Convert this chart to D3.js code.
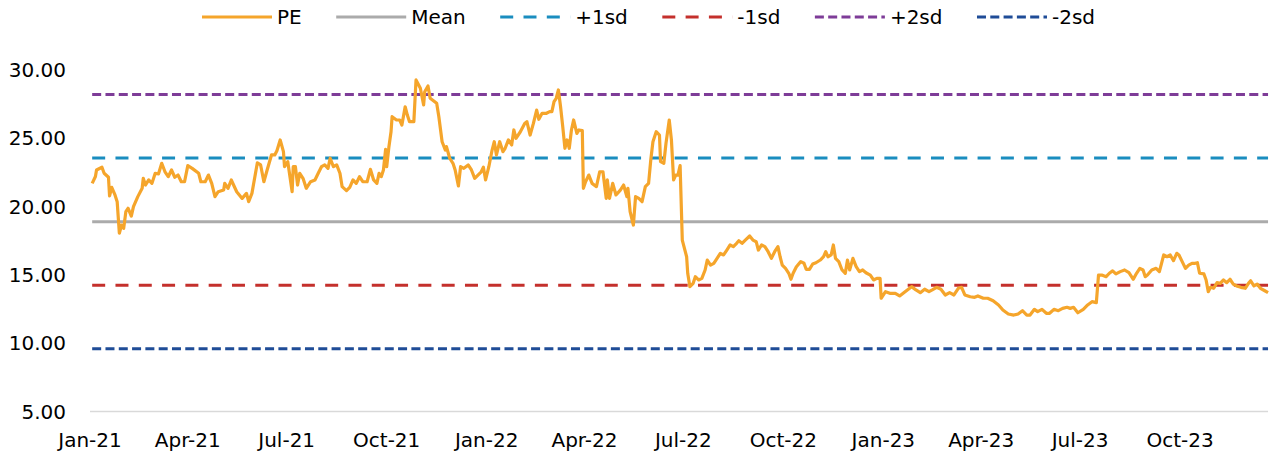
<!DOCTYPE html>
<html>
<head>
<meta charset="utf-8">
<script src="https://cdn.jsdelivr.net/npm/d3@7"></script>
<style>
  html, body { margin:0; padding:0; background:#fff; }
  svg text { font-family:"DejaVu Sans", Verdana, sans-serif; fill:#000; }
</style>
</head>
<body>
<svg id="chart" width="1269" height="459"></svg>
<script>
/* ——— data ———————————————————————————————————————————— */
// PE series: [days after 1 Jan 2021, value]
const peSeries = [
  [2,21.7],[5,22.2],[6,22.68],[11,22.88],[13,22.44],[17,22.15],[18,20.78],[20,21.41],
  [23,20.85],[25,20.36],[27,18.05],[29,18.65],[31,18.41],[33,19.63],[35,19.88],[38,19.31],
  [40,20.0],[44,20.73],[48,21.34],[49,22.07],[51,21.58],[54,21.95],[57,21.7],[60,22.44],
  [63,22.39],[66,23.17],[69,22.55],[72,22.19],[75,22.68],[78,22.15],[81,22.31],[84,21.82],
  [87,21.82],[90,23.0],[94,22.8],[100,22.44],[102,21.82],[106,21.82],[109,22.31],[112,21.7],
  [115,20.73],[118,21.09],[123,21.21],[124,21.7],[127,21.34],[130,21.95],[135,21.09],[140,20.6],
  [144,20.97],[146,20.36],[149,20.97],[152,22.31],[154,23.21],[157,23.05],[160,21.82],[163,22.68],
  [167,23.78],[170,23.78],[172,24.09],[175,24.88],[178,24.02],[179,22.92],[182,23.29],[186,21.09],
  [187,22.92],[189,22.92],[191,21.58],[193,22.44],[196,22.07],[199,21.34],[203,21.82],[207,21.95],
  [210,22.44],[213,22.92],[216,23.05],[219,22.8],[221,23.54],[224,22.92],[227,23.05],[230,22.44],
  [232,21.46],[236,21.17],[239,21.41],[242,21.95],[245,21.7],[248,22.19],[251,21.82],[255,21.82],
  [258,22.73],[261,21.95],[264,21.7],[266,22.44],[268,22.19],[270,22.68],[272,24.19],[273,22.92],
  [275,24.34],[277,25.48],[278,26.58],[282,26.34],[285,26.34],[287,25.97],[290,27.31],[292,26.7],
  [294,26.22],[298,26.22],[300,29.27],[304,28.66],[307,27.44],[308,28.41],[311,28.83],[313,27.93],
  [316,27.75],[319,27.56],[321,26.58],[324,24.75],[327,24.14],[328,24.39],[331,23.54],[334,23.17],
  [336,22.68],[339,21.51],[341,22.92],[344,22.8],[348,23.05],[351,22.68],[354,22.07],[357,22.31],
  [360,22.55],[362,22.88],[364,21.95],[367,22.92],[370,24.14],[372,24.75],[374,23.78],[377,24.75],
  [380,24.02],[382,24.27],[385,24.88],[388,24.51],[390,25.61],[392,25.0],[396,25.48],[400,26.09],
  [402,26.22],[405,25.24],[408,26.09],[411,27.07],[413,26.39],[416,26.83],[420,26.83],[423,26.95],
  [425,26.95],[427,27.68],[429,27.93],[431,28.54],[433,27.31],[435,25.85],[437,24.27],[439,24.88],
  [441,24.27],[443,25.61],[445,26.34],[448,25.36],[450,25.61],[453,25.56],[454,21.34],[456,21.82],
  [459,22.31],[462,21.7],[466,21.46],[469,22.55],[472,22.55],[475,20.6],[476,21.95],[478,20.6],
  [481,21.7],[484,20.85],[488,21.21],[491,21.58],[494,20.73],[495,21.34],[497,19.63],[500,18.65],
  [502,20.73],[505,20.6],[508,20.36],[511,21.46],[514,21.7],[516,23.41],[518,24.75],[521,25.48],
  [524,25.24],[525,23.29],[528,23.17],[530,24.63],[533,26.34],[535,24.88],[537,21.95],[539,22.31],
  [541,22.31],[543,23.0],[545,17.55],[549,16.33],[550,15.12],[552,14.14],[555,14.38],[557,14.87],
  [560,14.63],[563,14.75],[566,15.36],[568,16.09],[571,15.72],[574,15.85],[577,16.21],[580,16.58],
  [583,16.46],[586,16.82],[589,17.19],[592,17.07],[595,17.31],[597,17.5],[600,17.31],[603,17.55],
  [607,17.85],[610,17.55],[613,17.43],[615,16.82],[618,17.19],[621,17.07],[624,16.7],[627,16.21],
  [630,16.7],[633,17.07],[635,16.33],[637,15.72],[640,15.48],[643,15.12],[645,14.68],[647,15.12],
  [650,15.6],[654,15.97],[657,15.85],[659,15.41],[662,15.41],[665,15.8],[668,15.89],[672,16.09],
  [675,16.33],[677,16.7],[679,16.33],[682,16.46],[684,17.19],[686,16.21],[689,15.97],[692,15.36],
  [695,15.12],[697,16.09],[699,15.36],[702,16.21],[705,15.6],[708,15.24],[711,15.36],[714,15.16],
  [718,14.99],[721,14.63],[724,14.75],[727,14.75],[728,13.29],[732,13.77],[736,13.65],[741,13.65],
  [745,13.46],[750,13.77],[756,14.14],[760,13.9],[764,13.7],[768,13.95],[772,13.77],[775,13.9],
  [779,14.09],[783,13.95],[787,13.53],[791,13.7],[795,13.53],[799,14.02],[802,14.09],[805,13.53],
  [810,13.4],[814,13.36],[817,13.46],[822,13.29],[826,13.29],[831,13.11],[836,12.8],[840,12.43],
  [845,12.14],[850,12.06],[854,12.14],[858,12.38],[862,12.06],[865,12.06],[869,12.48],[872,12.31],
  [876,12.48],[880,12.19],[883,12.19],[887,12.48],[891,12.38],[895,12.55],[899,12.63],[902,12.55],
  [905,12.63],[909,12.23],[914,12.48],[918,12.8],[922,13.04],[926,12.97],[928,14.99],[931,14.99],
  [935,14.87],[938,15.12],[941,15.3],[944,15.07],[948,15.24],[952,15.36],[956,15.16],[960,14.68],
  [963,15.12],[966,15.48],[969,15.36],[971,14.87],[973,14.99],[977,15.36],[981,15.48],[984,15.24],
  [986,15.85],[988,16.46],[991,16.33],[994,16.46],[997,16.04],[1000,16.58],[1002,16.46],[1005,15.97],
  [1008,15.48],[1011,15.72],[1014,15.85],[1017,15.85],[1019,15.89],[1021,15.12],[1025,15.07],[1027,14.63],
  [1029,13.77],[1031,14.09],[1034,14.02],[1037,14.43],[1040,14.38],[1043,14.63],[1046,14.43],[1049,14.68],
  [1052,14.33],[1055,14.19],[1059,14.09],[1063,14.02],[1066,14.38],[1068,14.57],[1071,14.19],[1074,14.33],
  [1077,14.02],[1081,13.84],[1084,13.7]
];

// flat reference lines
const bandNames  = ["Mean", "+1sd", "-1sd", "+2sd", "-2sd"];
const bandValues = [18.9, 23.55, 14.25, 28.2, 9.6];

const yTicks      = [5, 10, 15, 20, 25, 30];
const xTickMonths = ["2021-01","2021-04","2021-07","2021-10","2022-01","2022-04",
                     "2022-07","2022-10","2023-01","2023-04","2023-07","2023-10"];

/* ——— styles ———————————————————————————————————————— */
const styles = {
  "PE":   {color:"#F5A52B", dash:null},
  "Mean": {color:"#ABABAB", dash:null},
  "+1sd": {color:"#1A8DBF", dash:"13,10.3"},
  "-1sd": {color:"#C4302C", dash:"13,10.3"},
  "+2sd": {color:"#7E3C98", dash:"9,4.3"},
  "-2sd": {color:"#1F4C97", dash:"9,4.3"}
};

const origin = new Date(2021, 0, 1);
const pe = peSeries.map(([d, v]) => ({date: d3.timeDay.offset(origin, d), value: v}));

const svg = d3.select("#chart");

/* ——— scales ———————————————————————————————————————— */
const x = d3.scaleTime([origin, new Date(2024, 0, 1)], [90, 1280]);
const y = d3.scaleLinear([5, 30], [411.5, 70]);

const [dFirst, dLast] = d3.extent(pe, d => d.date);

/* ——— axes ——————————————————————————————————————————— */
svg.append("line")
   .attr("x1", x(origin)).attr("x2", x(dLast))
   .attr("y1", y(5)).attr("y2", y(5))
   .attr("stroke", "#D9D9D9").attr("stroke-width", 1.5);

svg.append("g")
  .selectAll("text").data(yTicks).enter().append("text")
    .attr("x", 66)
    .attr("y", d => y(d))
    .attr("dy", "0.35em")
    .attr("text-anchor", "end")
    .attr("font-size", 20)
    .text(d3.format(".2f"));

const fmtMonth = d3.timeFormat("%b-%y");
svg.append("g")
  .selectAll("text").data(xTickMonths.map(d3.timeParse("%Y-%m"))).enter().append("text")
    .attr("x", d => x(d))
    .attr("y", 440)
    .attr("dy", "0.35em")
    .attr("text-anchor", "middle")
    .attr("font-size", 20)
    .text(fmtMonth);

/* ——— reference lines ——————————————————————————————— */
svg.append("g")
  .selectAll("line").data(bandNames).enter().append("line")
    .attr("x1", x(dFirst)).attr("x2", x(dLast))
    .attr("y1", (d, i) => y(bandValues[i]))
    .attr("y2", (d, i) => y(bandValues[i]))
    .attr("stroke", d => styles[d].color)
    .attr("stroke-width", 3)
    .attr("stroke-dasharray", d => styles[d].dash);

/* ——— PE line ———————————————————————————————————————— */
svg.append("path")
   .datum(pe)
   .attr("fill", "none")
   .attr("stroke", styles.PE.color)
   .attr("stroke-width", 3.2)
   .attr("stroke-linejoin", "round")
   .attr("d", d3.line().x(d => x(d.date)).y(d => y(d.value)));

/* ——— legend ————————————————————————————————————————— */
const legendNames = ["PE", ...bandNames];
const legend = svg.append("g");
let lx = 202;
legendNames.forEach(name => {
  const s = styles[name];
  legend.append("line")
    .attr("x1", lx).attr("x2", lx + 70)
    .attr("y1", 17).attr("y2", 17)
    .attr("stroke", s.color)
    .attr("stroke-width", 3)
    .attr("stroke-dasharray", s.dash);
  const t = legend.append("text")
    .attr("x", lx + 75)
    .attr("y", 17)
    .attr("dy", "0.35em")
    .attr("font-size", 20)
    .text(name);
  lx += 75 + t.node().getComputedTextLength() + 34.5;
});
</script>
</body>
</html>
